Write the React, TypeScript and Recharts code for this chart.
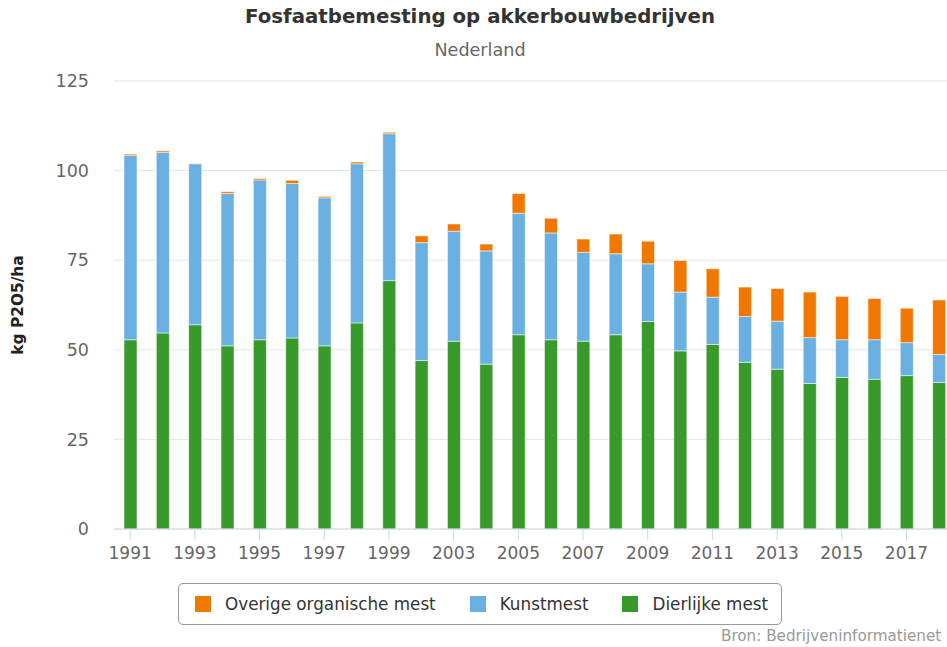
import React from 'react';
import { BarChart, Bar, XAxis, YAxis, CartesianGrid } from 'recharts';

const years = ['1991','1992','1993','1994','1995','1996','1997','1998','1999','2001','2003','2004','2005','2006','2007','2008','2009','2010','2011','2012','2013','2014','2015','2016','2017','2018'];
const dierlijkeMest = [52.8,54.7,57.0,51.1,52.8,53.3,51.1,57.5,69.3,47.0,52.4,46.0,54.2,52.8,52.4,54.2,57.9,49.7,51.5,46.5,44.6,40.6,42.3,41.8,42.8,40.9];
const kunstmest = [51.4,50.4,44.9,42.5,44.6,43.1,41.3,44.4,41.0,32.9,30.7,31.6,33.9,29.8,24.8,22.6,16.1,16.4,13.2,12.8,13.4,12.8,10.5,11.0,9.2,7.8];
const overigeOrganischeMest = [0.4,0.4,0.1,0.5,0.4,0.9,0.4,0.5,0.4,1.9,2.0,1.9,5.5,4.1,3.7,5.5,6.3,8.8,7.9,8.2,9.1,12.7,12.1,11.5,9.6,15.2];
const yTicks = [0, 25, 50, 75, 100, 125];

const series = [
  { key: 'overige', name: 'Overige organische mest', color: '#f07800' },
  { key: 'kunst', name: 'Kunstmest', color: '#6aafe1' },
  { key: 'dier', name: 'Dierlijke mest', color: '#379a2b' },
];

const data = years.map((y, i) => ({
  year: y,
  dier: dierlijkeMest[i],
  kunst: kunstmest[i],
  overige: overigeOrganischeMest[i],
}));

const FONT = '"DejaVu Sans", sans-serif';

export default function App() {
  return (
    <div style={{ position: 'absolute', left: 0, top: 0, width: 947, height: 647, overflow: 'hidden', background: '#fff', fontFamily: FONT }}>
      <div style={{ position: 'relative', width: 962, height: 647 }}>
        <BarChart width={962} height={647} data={data} margin={{ top: 81, right: 7, bottom: 88, left: 0 }}>
          <CartesianGrid horizontal={true} vertical={false} stroke="#e6e6e6" />
          <XAxis
            dataKey="year"
            interval={1}
            height={30}
            tickSize={11}
            tickMargin={7}
            stroke="#ccd6eb"
            tick={{ fill: '#666666', fontSize: 17, fontFamily: FONT }}
            axisLine={{ stroke: '#ccd6eb' }}
            tickLine={{ stroke: '#ccd6eb' }}
          />
          <YAxis
            width={114}
            domain={[0, 125]}
            ticks={yTicks}
            tickSize={0}
            tickMargin={25}
            axisLine={false}
            tickLine={false}
            tick={{ fill: '#666666', fontSize: 17.5, fontFamily: FONT }}
            label={{
              content: () => (
                <text x={22.5} y={305} transform="rotate(-90 22.5 305)" textAnchor="middle" fontFamily={FONT} fontSize={15.4} fontWeight="bold" fill="#222">
                  kg P2O5/ha
                </text>
              ),
            }}
          />
          <Bar dataKey="dier" name="Dierlijke mest" stackId="a" fill="#379a2b" barSize={13} stroke="rgba(255,255,255,0.5)" strokeWidth={1} isAnimationActive={false} />
          <Bar dataKey="kunst" name="Kunstmest" stackId="a" fill="#6aafe1" barSize={13} stroke="rgba(255,255,255,0.5)" strokeWidth={1} isAnimationActive={false} />
          <Bar dataKey="overige" name="Overige organische mest" stackId="a" fill="#f07800" barSize={13} stroke="rgba(255,255,255,0.5)" strokeWidth={1} isAnimationActive={false} />
        </BarChart>

        <div style={{ position: 'absolute', left: 0, width: 960, top: 5, textAlign: 'center', fontSize: 19.8, fontWeight: 'bold', color: '#333' }}>
          Fosfaatbemesting op akkerbouwbedrijven
        </div>
        <div style={{ position: 'absolute', left: 0, width: 960, top: 40, textAlign: 'center', fontSize: 17.6, color: '#666' }}>
          Nederland
        </div>

        <div style={{ position: 'absolute', left: 178, top: 583, width: 602, height: 40, border: '1px solid #999', borderRadius: 5, boxSizing: 'content-box', display: 'flex', alignItems: 'center' }}>
          {series.map((s, i) => (
            <div key={s.key} style={{ display: 'flex', alignItems: 'center', marginLeft: i === 0 ? 16 : 34 }}>
              <div style={{ width: 16, height: 16, background: s.color, marginRight: 14 }} />
              <span style={{ fontSize: 16.8, color: '#333', whiteSpace: 'nowrap' }}>{s.name}</span>
            </div>
          ))}
        </div>

        <div style={{ position: 'absolute', left: 721, top: 627, fontSize: 15.2, color: '#999', whiteSpace: 'nowrap' }}>
          Bron: Bedrijveninformatienet
        </div>
      </div>
    </div>
  );
}
